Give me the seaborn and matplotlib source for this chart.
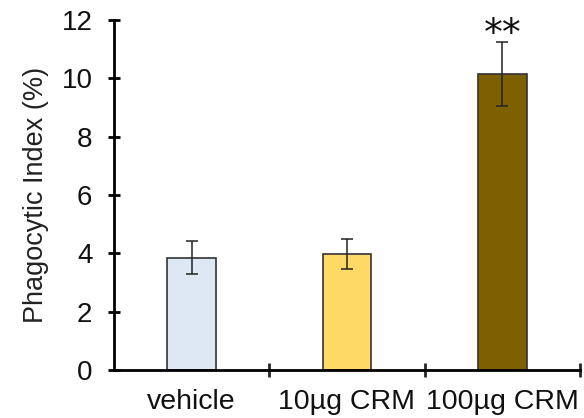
import numpy as np
import pandas as pd
import matplotlib
matplotlib.use("Agg")
import matplotlib.pyplot as plt
import seaborn as sns

groups = ["vehicle", "10µg CRM", "100µg CRM"]
means = [3.85, 3.97, 10.15]
errors = [0.57, 0.52, 1.1]
bar_colors = ["#DEE8F5", "#FFD966", "#7F6000"]
stars = ["", "", "**"]

sns.set_theme(style="white")
plt.rcParams['font.family'] = ['Liberation Sans', 'DejaVu Sans']

df = pd.DataFrame({"group": groups, "mean": means})

fig = plt.figure(figsize=(5.84, 4.18), dpi=100)
ax = fig.add_axes([114 / 584, 48 / 418, 466 / 584, 350 / 418])

sns.barplot(data=df, x="group", y="mean", hue="group", palette=bar_colors,
            saturation=1, width=0.315, edgecolor="#333333", linewidth=1.2,
            legend=False, ax=ax)
ax.errorbar(np.arange(len(groups)), means, yerr=errors, fmt="none",
            ecolor="#222222", elinewidth=1.1, capsize=4, capthick=1.1)

for i, s in enumerate(stars):
    if s:
        ax.text(i, 12.1, s, ha="center", va="top", fontsize=27,
                color="#111111", family="DejaVu Sans", clip_on=False)

ax.set_xlim(-0.5, 2.5)
ax.set_ylim(0, 12)
ax.set_yticks(np.arange(0, 13, 2))
ax.set_xlabel("")
ax.set_ylabel("Phagocytic Index (%)", fontsize=19.5, color="#222222", labelpad=9)

for side in ["top", "right"]:
    ax.spines[side].set_visible(False)
for side in ["left", "bottom"]:
    ax.spines[side].set_linewidth(2)
    ax.spines[side].set_color("black")

ax.tick_params(axis="y", direction="inout", length=9, width=2, labelsize=20,
               left=True, pad=11, colors="black", labelcolor="#111111")
ax.tick_params(axis="x", length=0, labelsize=20.5, pad=14, labelcolor="#111111")
ax.set_xticks([0.5, 1.5, 2.5], minor=True)
ax.tick_params(axis="x", which="minor", direction="inout", length=10, width=2,
               bottom=True)

fig.savefig("out.png", dpi=100)
